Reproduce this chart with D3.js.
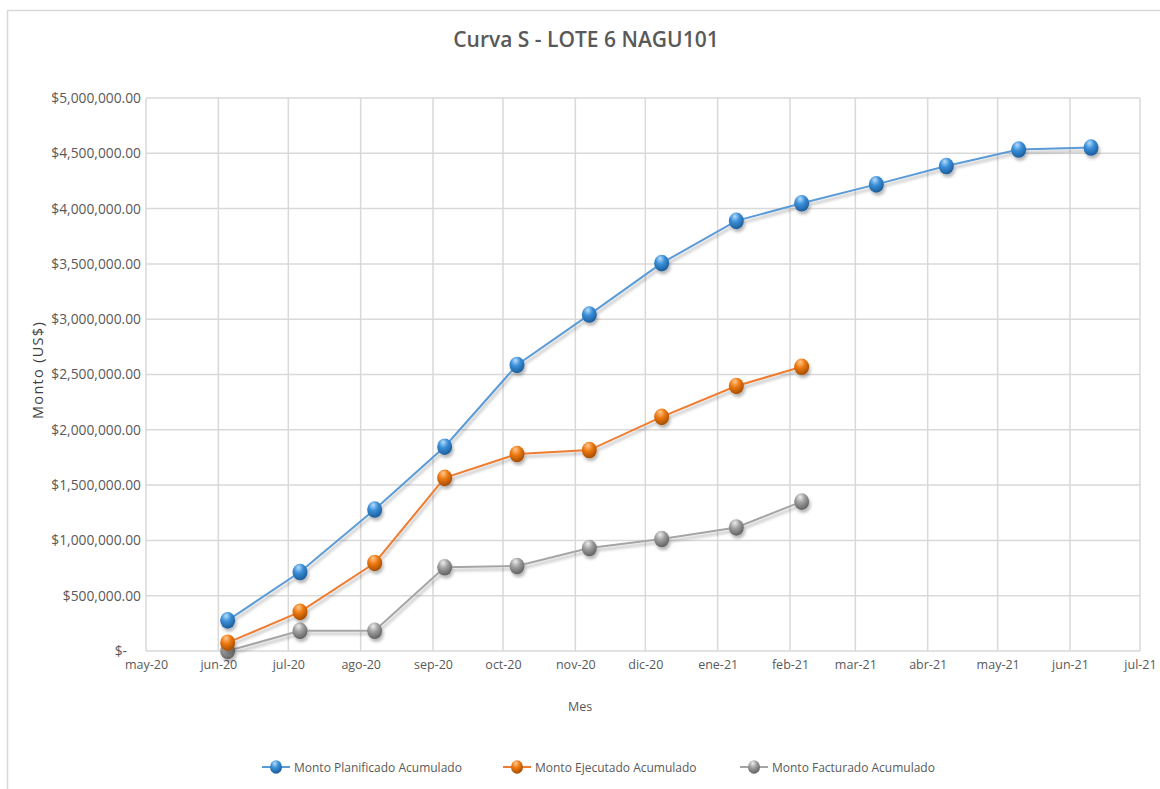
<!DOCTYPE html>
<html lang="es">
	<head>
		<meta charset="utf-8">
		<title>Curva S - LOTE 6 NAGU101</title>
		<script type="text/javascript" src="https://cdn.jsdelivr.net/npm/d3@7"></script>
		<style type="text/css">
			body { margin: 0; background: #fff; }
			text { font-family: "Open Sans", sans-serif; }
		</style>
	</head>
	<body>
		<script type="text/javascript">

			//Dates of each point (one per month)
			var fechas = ["2020-06-05", "2020-07-06", "2020-08-07", "2020-09-06", "2020-10-07", "2020-11-07",
			              "2020-12-08", "2021-01-09", "2021-02-06", "2021-03-10", "2021-04-09", "2021-05-10", "2021-06-10"];

			//Series values (US$)
			var planificado = [277000, 714000, 1279000, 1847000, 2586000, 3042000, 3507000, 3889000, 4048000,
			                   4219000, 4385000, 4534000, 4552000];
			var ejecutado = [75000, 354000, 796000, 1565000, 1781000, 1817000, 2117000, 2396000, 2570000];
			var facturado = [0, 183000, 183000, 757000, 768000, 931000, 1012000, 1117000, 1351000];

			var nombres = ["Monto Planificado Acumulado", "Monto Ejecutado Acumulado", "Monto Facturado Acumulado"];

			//Tick labels
			var meses = ["ene", "feb", "mar", "abr", "may", "jun", "jul", "ago", "sep", "oct", "nov", "dic"];
			var yTicks = [0, 500000, 1000000, 1500000, 2000000, 2500000, 3000000, 3500000, 4000000, 4500000, 5000000];

			//Width and height
			var w = 1160;
			var h = 789;
			var pLeft = 146, pRight = 1140, pTop = 98, pBottom = 651;

			var parseTime = d3.timeParse("%Y-%m-%d");

			var series = [
				{ name: nombres[0], values: planificado, line: "#5B9BD5", hi: "#B5DDFA", base: "#3A8FD9", edge: "#1D5C9A" },
				{ name: nombres[1], values: ejecutado, line: "#ED7D31", hi: "#FFC98F", base: "#EE7A12", edge: "#A54D00" },
				{ name: nombres[2], values: facturado, line: "#A5A5A5", hi: "#EDEDED", base: "#A0A0A0", edge: "#616161" }
			];
			series.forEach(function(s) {
				s.points = s.values.map(function(v, i) { return { date: parseTime(fechas[i]), value: v }; });
			});

			var xScale = d3.scaleTime()
						.domain([new Date(2020, 4, 1), new Date(2021, 6, 1)])
						.range([pLeft, pRight]);

			var yScale = d3.scaleLinear()
						.domain([0, 5000000])
						.range([pBottom, pTop]);

			var svg = d3.select("body")
						.append("svg")
						.attr("width", w)
						.attr("height", h);

			var defs = svg.append("defs");

			//Soft shadow under lines and markers
			var shadow = defs.append("filter").attr("id", "shadow")
				.attr("x", "-20%").attr("y", "-20%").attr("width", "140%").attr("height", "160%");
			shadow.append("feDropShadow")
				.attr("dx", 1.5).attr("dy", 3).attr("stdDeviation", 1.8)
				.attr("flood-color", "#000").attr("flood-opacity", 0.28);

			//Sphere look for the markers
			series.forEach(function(s, i) {
				var g = defs.append("radialGradient").attr("id", "ball" + i)
					.attr("cx", "40%").attr("cy", "30%").attr("r", "70%")
					.attr("fx", "40%").attr("fy", "22%");
				g.append("stop").attr("offset", "0%").attr("stop-color", s.hi);
				g.append("stop").attr("offset", "45%").attr("stop-color", s.base);
				g.append("stop").attr("offset", "100%").attr("stop-color", s.edge);
			});

			//Chart border
			svg.append("rect")
				.attr("x", 7.5).attr("y", 10.5)
				.attr("width", w - 6).attr("height", h)
				.attr("fill", "none")
				.attr("stroke", "#d9d9d9")
				.attr("stroke-width", 1.5);

			//Title
			svg.append("text")
				.attr("x", 586).attr("y", 47)
				.attr("text-anchor", "middle")
				.attr("font-size", "21px")
				.attr("font-weight", 600)
				.attr("fill", "#595959")
				.text("Curva S - LOTE 6 NAGU101");

			//Gridlines
			var monthTicks = xScale.ticks(d3.timeMonth.every(1));

			svg.append("g")
				.selectAll("line")
				.data(yTicks)
				.enter()
				.append("line")
				.attr("x1", pLeft).attr("x2", pRight)
				.attr("y1", function(d) { return yScale(d); })
				.attr("y2", function(d) { return yScale(d); })
				.attr("stroke", "#d9d9d9")
				.attr("stroke-width", 1.5);

			svg.append("g")
				.selectAll("line")
				.data(monthTicks)
				.enter()
				.append("line")
				.attr("x1", function(d) { return xScale(d); })
				.attr("x2", function(d) { return xScale(d); })
				.attr("y1", pTop).attr("y2", pBottom)
				.attr("stroke", "#d9d9d9")
				.attr("stroke-width", 1.5);

			//Y axis
			var yAxis = d3.axisLeft(yScale)
						.tickValues(yTicks)
						.tickSize(0)
						.tickPadding(5)
						.tickFormat(function(d) { return d === 0 ? "$-" : "$" + d3.format(",.2f")(d); });

			var yg = svg.append("g")
				.attr("transform", "translate(" + pLeft + ",0)")
				.call(yAxis);
			yg.select(".domain").remove();
			yg.selectAll("text")
				.attr("font-family", "Open Sans, sans-serif")
				.attr("font-size", "13.8px")
				.attr("fill", "#595959")
				.attr("dx", function(d) { return d === 0 ? -14 : 0; });

			//X axis
			var xAxis = d3.axisBottom(xScale)
						.tickValues(monthTicks)
						.tickSize(0)
						.tickPadding(9)
						.tickFormat(function(d) { return meses[d.getMonth()] + "-" + d3.timeFormat("%y")(d); });

			var xg = svg.append("g")
				.attr("transform", "translate(0," + pBottom + ")")
				.call(xAxis);
			xg.select(".domain").remove();
			xg.selectAll("text")
				.attr("font-family", "Open Sans, sans-serif")
				.attr("font-size", "12.5px")
				.attr("fill", "#595959");

			//Axis titles
			svg.append("text")
				.attr("x", 580).attr("y", 711)
				.attr("text-anchor", "middle")
				.attr("font-size", "12.5px")
				.attr("fill", "#595959")
				.text("Mes");

			svg.append("text")
				.attr("transform", "translate(43,370) rotate(-90)")
				.attr("text-anchor", "middle")
				.attr("font-family", "DejaVu Sans, sans-serif")
				.attr("font-size", "14.5px")
				.attr("letter-spacing", "1.3px")
				.attr("fill", "#404040")
				.text("Monto (US$)");

			//Lines
			var line = d3.line()
				.x(function(d) { return xScale(d.date); })
				.y(function(d) { return yScale(d.value); });

			series.slice().reverse().forEach(function(s) {
				var i = series.indexOf(s);
				var g = svg.append("g").attr("filter", "url(#shadow)");
				g.append("path")
					.datum(s.points)
					.attr("d", line)
					.attr("fill", "none")
					.attr("stroke", s.line)
					.attr("stroke-width", 2);
				g.selectAll("ellipse")
					.data(s.points)
					.enter()
					.append("ellipse")
					.attr("cx", function(d) { return xScale(d.date); })
					.attr("cy", function(d) { return yScale(d.value); })
					.attr("rx", 7.5)
					.attr("ry", 8.3)
					.attr("fill", "url(#ball" + i + ")");
			});

			//Legend
			var legendX = [262, 503, 740];
			var legend = svg.append("g")
				.selectAll("g")
				.data(series)
				.enter()
				.append("g")
				.attr("transform", function(d, i) { return "translate(" + legendX[i] + ",767)"; });

			legend.append("line")
				.attr("x1", 0).attr("x2", 28)
				.attr("stroke", function(d) { return d.line; })
				.attr("stroke-width", 2);
			legend.append("ellipse")
				.attr("cx", 14).attr("cy", 0)
				.attr("rx", 6).attr("ry", 6.8)
				.attr("fill", function(d, i) { return "url(#ball" + i + ")"; });
			legend.append("text")
				.attr("x", 32).attr("y", 4.5)
				.attr("font-size", "12px")
				.attr("fill", "#595959")
				.text(function(d) { return d.name; });

		</script>
	</body>
</html>
